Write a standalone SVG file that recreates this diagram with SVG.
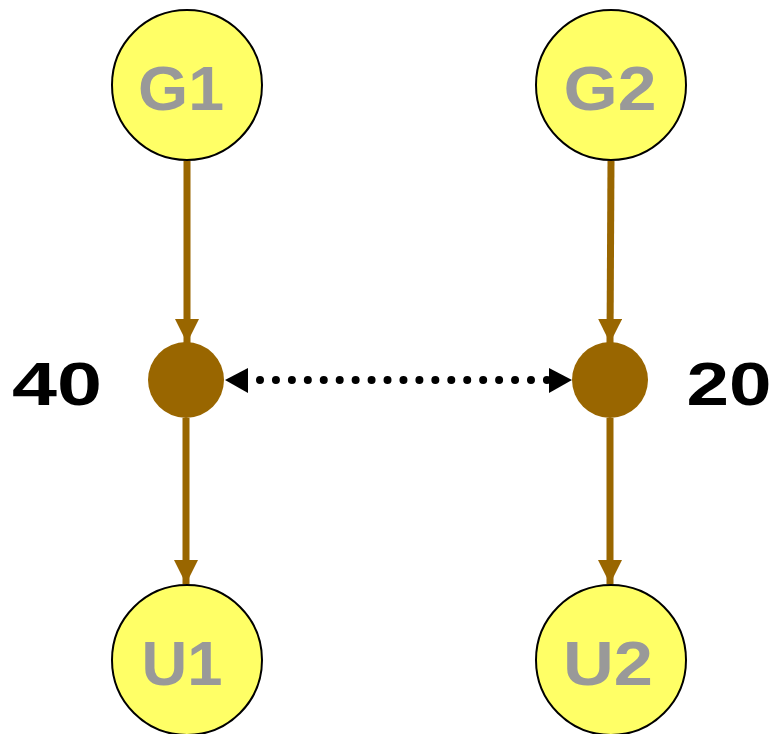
<svg xmlns="http://www.w3.org/2000/svg" width="775" height="734" viewBox="0 0 775 734">
<style>
.node{fill:#ffff66;stroke:#000;stroke-width:2}
.lbl{font-family:"Liberation Sans",Arial,sans-serif;font-weight:bold;font-size:63px;fill:#999999;text-anchor:middle}
.num{font-family:"Liberation Sans",Arial,sans-serif;font-weight:bold;font-size:61px;fill:#000;text-anchor:middle}
.edge{stroke:#996600;stroke-width:7;fill:none}
.dot{fill:#996600}
.dash{stroke:#000;stroke-width:8;stroke-linecap:round;stroke-dasharray:0 15.94;fill:none}
</style>
<defs>
<marker id="ab" viewBox="0 0 10 10" refX="10" refY="5" markerWidth="24" markerHeight="24" markerUnits="userSpaceOnUse" orient="auto"><path d="M0,0L10,5L0,10Z" fill="#996600"/></marker>
</defs>
<g id="edges">
<line class="edge" x1="187" y1="161" x2="187" y2="343" marker-end="url(#ab)"/>
<line class="edge" x1="611" y1="161" x2="610" y2="343" marker-end="url(#ab)"/>
<line class="edge" x1="186" y1="418" x2="186" y2="584" marker-end="url(#ab)"/>
<line class="edge" x1="610" y1="418" x2="610" y2="584" marker-end="url(#ab)"/>
<line class="dash" x1="260" y1="380" x2="547" y2="380"/>
<path d="M225,380L248,368L248,393Z" fill="#000"/>
<path d="M572,380L549,368L549,393Z" fill="#000"/>
</g>
<g id="G1"><circle class="node" cx="187" cy="85" r="75"/><text class="lbl" x="181" y="110" textLength="86" lengthAdjust="spacingAndGlyphs">G1</text></g>
<g id="G2"><circle class="node" cx="611" cy="85" r="75"/><text class="lbl" x="610" y="110" textLength="93" lengthAdjust="spacingAndGlyphs">G2</text></g>
<g id="U1"><circle class="node" cx="187" cy="660" r="75"/><text class="lbl" x="182" y="685" textLength="81" lengthAdjust="spacingAndGlyphs">U1</text></g>
<g id="U2"><circle class="node" cx="611" cy="660" r="75"/><text class="lbl" x="608" y="685" textLength="90" lengthAdjust="spacingAndGlyphs">U2</text></g>
<g id="J1"><circle class="dot" cx="186" cy="380" r="38"/></g>
<g id="J2"><circle class="dot" cx="610" cy="380" r="38"/></g>
<g id="L40"><text class="num" x="57" y="405" textLength="90" lengthAdjust="spacingAndGlyphs">40</text></g>
<g id="L20"><text class="num" x="729" y="405" textLength="85" lengthAdjust="spacingAndGlyphs">20</text></g>
</svg>
